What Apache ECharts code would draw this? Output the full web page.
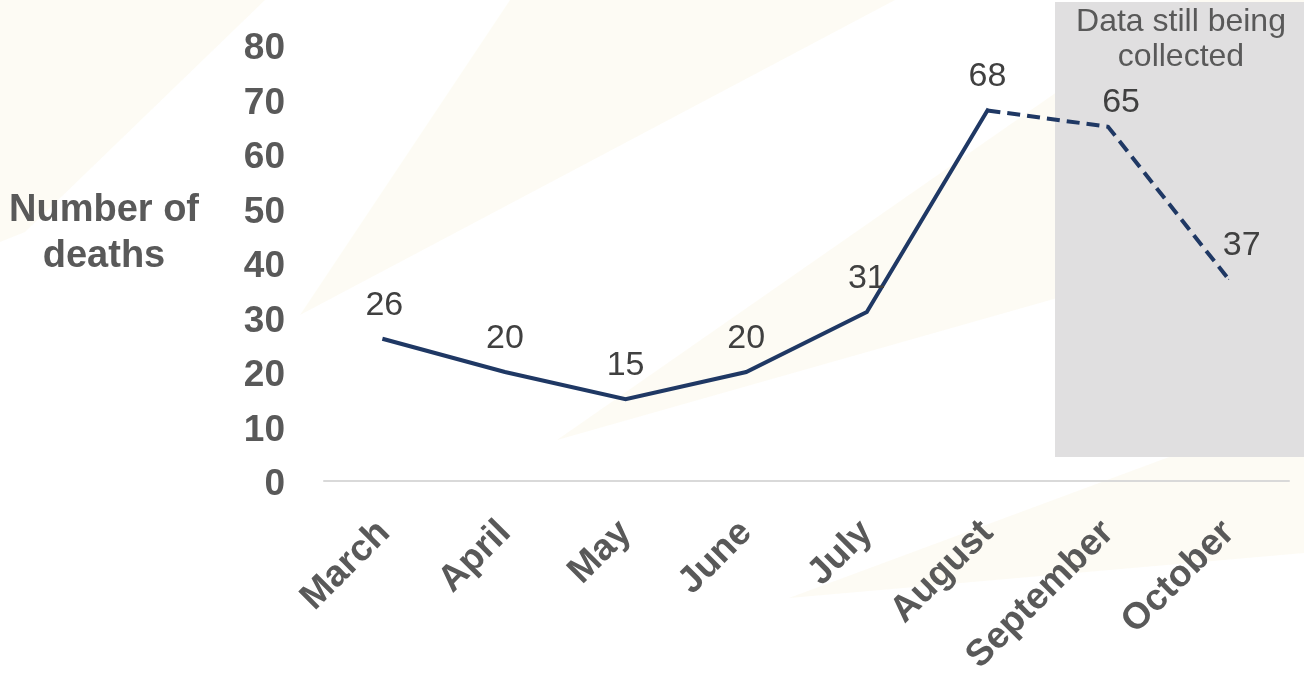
<!DOCTYPE html>
<html>
<head>
<meta charset="utf-8">
<script src="https://cdn.jsdelivr.net/npm/echarts@6/dist/echarts.min.js"></script>
<style>
html,body{margin:0;padding:0;background:#fff;}
#chart{width:1304px;height:681px;}
</style>
</head>
<body>
<div id="chart"></div>
<script>
// ---- data ----
var months = ['March', 'April', 'May', 'June', 'July', 'August', 'September', 'October'];
var deaths = [26, 20, 15, 20, 31, 68, 65, 37];
var completeCount = 6; // March..August are complete; later months still being collected
var yTicks = [0, 10, 20, 30, 40, 50, 60, 70, 80];
var yAxisTitle = 'Number of\ndeaths';
var noteText = 'Data still being\ncollected';

// ---- build series ----
var FONT = "'Liberation Sans', Arial, sans-serif";
var NAVY = '#1f3864';
var solidData = deaths.map(function (v, i) {
  return i < completeCount ? v : null;
});
var dashedData = deaths.map(function (v, i) {
  if (i < completeCount - 1) return null;
  if (i === completeCount - 1) return { value: v, label: { show: false } };
  return { value: v, label: { offset: [13, i === completeCount ? 9 : 0] } };
});
var labelStyle = {
  show: true, position: 'top', distance: 16,
  fontFamily: FONT, fontSize: 34, color: '#404040', opacity: 1
};

var chart = echarts.init(document.getElementById('chart'), null, { renderer: 'canvas' });
var cream = 'rgba(240,225,170,0.13)';
chart.setOption({
  animation: false,
  backgroundColor: '#ffffff',
  grid: { left: 324, right: 15, top: 45, bottom: 200, containLabel: false },
  graphic: [
    { type: 'polygon', z: -10, silent: true, shape: { points: [[0, 0], [265, 0], [25, 232], [0, 242]] }, style: { fill: cream } },
    { type: 'polygon', z: -10, silent: true, shape: { points: [[510, 0], [895, 0], [300, 315]] }, style: { fill: cream } },
    { type: 'polygon', z: -10, silent: true, shape: { points: [[557, 440], [1304, -80], [1304, 228]] }, style: { fill: cream } },
    { type: 'polygon', z: -10, silent: true, shape: { points: [[789, 598], [1304, 407], [1304, 553]] }, style: { fill: cream } },
    { type: 'rect', z: -5, silent: true, shape: { x: 1055, y: 2, width: 249, height: 455 }, style: { fill: 'rgb(224,223,224)' } },
    { type: 'text', z: 10, silent: true, x: 1181, y: 40,
      style: { text: noteText, textAlign: 'center', textVerticalAlign: 'middle', font: "32px 'Liberation Sans', Arial, sans-serif", lineHeight: 35, fill: '#595959' } },
    { type: 'text', z: 10, silent: true, x: 104, y: 234,
      style: { text: yAxisTitle, textAlign: 'center', textVerticalAlign: 'middle', font: "bold 38px 'Liberation Sans', Arial, sans-serif", lineHeight: 46, fill: '#595959' } }
  ],
  xAxis: {
    type: 'category',
    data: months,
    boundaryGap: true,
    axisLine: { show: true, lineStyle: { color: '#d9d9d9', width: 2 } },
    axisTick: { show: false },
    axisLabel: {
      rotate: 45, interval: 0, margin: 46,
      fontFamily: FONT, fontSize: 37, fontWeight: 'bold', color: '#595959'
    },
    splitLine: { show: false }
  },
  yAxis: {
    type: 'value',
    min: yTicks[0], max: yTicks[yTicks.length - 1], interval: yTicks[1] - yTicks[0],
    axisLine: { show: false },
    axisTick: { show: false },
    splitLine: { show: false },
    axisLabel: {
      margin: 39, formatter: '{v|{value}}',
      rich: { v: { padding: [8, 0, 0, 0], fontFamily: FONT, fontSize: 37, fontWeight: 'bold', color: '#595959' } },
      fontFamily: FONT, fontSize: 37, fontWeight: 'bold', color: '#595959'
    }
  },
  series: [
    {
      type: 'line', name: 'Complete', data: solidData, symbol: 'circle', symbolSize: 1, showSymbol: true,
      itemStyle: { color: NAVY }, connectNulls: false,
      lineStyle: { color: NAVY, width: 4, cap: 'square', join: 'miter' },
      label: labelStyle, z: 3
    },
    {
      type: 'line', name: 'Incomplete', data: dashedData, symbol: 'circle', symbolSize: 1, showSymbol: true,
      itemStyle: { color: NAVY }, connectNulls: false,
      lineStyle: { color: NAVY, width: 4, type: [13, 7], join: 'miter' },
      label: labelStyle, z: 3
    }
  ]
});
</script>
</body>
</html>
